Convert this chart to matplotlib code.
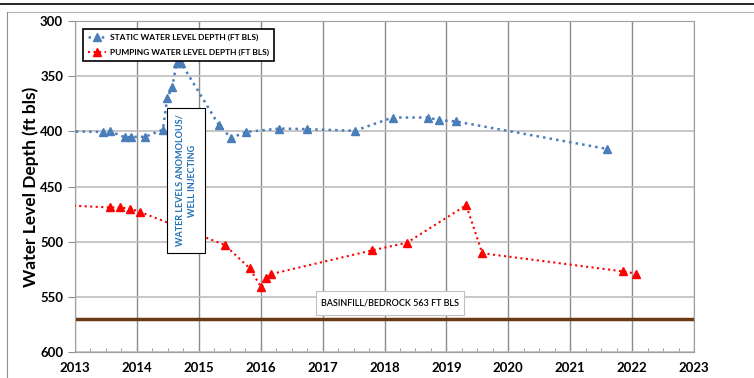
import matplotlib.pyplot as plt
from matplotlib.lines import Line2D
from matplotlib.patches import Rectangle
from matplotlib.ticker import MultipleLocator

plt.rcParams['font.family'] = ['Lato', 'DejaVu Sans']

# static water level (decimal year, ft bls)
static_years = [2012.8, 2013.46, 2013.57, 2013.81, 2013.91, 2014.13, 2014.42, 2014.49,
                2014.57, 2014.64, 2014.72, 2015.32, 2015.52, 2015.77, 2016.30, 2016.74,
                2017.52, 2018.13, 2018.71, 2018.88, 2019.15, 2021.60]
static_depth = [400, 400.5, 400, 405.5, 405, 405, 398.5, 370, 360, 338.5, 338.5,
                394, 406, 400.5, 397.5, 398, 399.5, 387.5, 387.5, 390, 391, 416]

# pumping water level (decimal year, ft bls)
pump_years = [2012.8, 2013.57, 2013.73, 2013.89, 2014.05, 2015.42, 2015.82, 2016.01,
              2016.09, 2016.16, 2017.79, 2018.36, 2019.32, 2019.58, 2021.86, 2022.07]
pump_depth = [467, 469, 469, 470, 473, 503, 524, 541.5, 533, 529.5, 508, 501,
              467, 510.5, 527, 529]

contact_depth = 570
contact_label = 'BASINFILL/BEDROCK 563 FT BLS'
anomaly_label = 'WATER LEVELS ANOMOLOUS/\nWELL INJECTING'

blue = '#4a7ebb'
red = '#ff0000'

fig = plt.figure(figsize=(7.54, 3.78), dpi=100)
ax = fig.add_axes([75 / 754, 26 / 378, 619 / 754, 331 / 378])

ax.plot(static_years, static_depth, ':', color=blue, lw=1.8, marker='^', ms=6,
        markeredgecolor=blue, label='STATIC WATER LEVEL DEPTH (FT BLS)', zorder=3)
ax.plot(pump_years, pump_depth, ':', color=red, lw=1.5, marker='^', ms=6,
        markeredgecolor=red, label='PUMPING WATER LEVEL DEPTH (FT BLS)', zorder=3)
ax.axhline(contact_depth, color='#6b3a14', lw=2.5, zorder=2)

ax.set_xlim(2013, 2023)
ax.set_ylim(600, 300)
ax.xaxis.set_major_locator(MultipleLocator(1))
ax.xaxis.set_minor_locator(MultipleLocator(0.25))
ax.yaxis.set_major_locator(MultipleLocator(50))
ax.grid(True, which='major', axis='x', color='#8c8c8c', lw=1)
ax.grid(True, which='major', axis='y', color='#bdbdbd', lw=1.2)
ax.set_axisbelow(True)
ax.tick_params(axis='x', which='both', direction='in', length=3, color='#8c8c8c')
ax.tick_params(axis='y', direction='out', length=5, color='#8c8c8c')
ax.tick_params(labelsize=9.5)
for lab in ax.get_xticklabels() + ax.get_yticklabels():
    lab.set_fontweight('bold')
ax.xaxis.set_tick_params(pad=7)
for s in ax.spines.values():
    s.set_color('#a0a0a0')

ax.set_ylabel('Water Level Depth (ft bls)', fontsize=12.5, fontweight='bold', labelpad=1)

# annotation boxes
ax.add_patch(Rectangle((2014.48, 379), 0.62, 131, facecolor='white',
                       edgecolor='black', lw=0.8, zorder=4))
ax.text(2014.79, 444.5, anomaly_label, rotation=90, ha='center', va='center',
        color='#1f6fb5', fontsize=6.5, fontweight='bold', linespacing=1.5, zorder=5)

ax.add_patch(Rectangle((2016.89, 544.5), 2.4, 22, facecolor='white',
                       edgecolor='#c0c0c0', lw=0.8, zorder=4))
ax.text(2018.09, 556, contact_label, ha='center', va='center',
        fontsize=6.5, fontweight='semibold', color='black', zorder=5)

leg = ax.legend(loc='upper left', bbox_to_anchor=(0.006, 0.988), fancybox=False,
                edgecolor='black', framealpha=1, numpoints=1, handlelength=2.2,
                handletextpad=0.5, prop={'size': 6, 'weight': 'bold'}, borderpad=0.6,
                labelspacing=0.9)
leg.get_frame().set_linewidth(1.2)
leg.set_zorder(6)

# outer frame
fig.add_artist(Line2D([0, 1], [1 - 4 / 378, 1 - 4 / 378], color='black', lw=1.2))
fig.add_artist(Line2D([0.009, 1], [1 - 12 / 378] * 2, color='#b0b0b0', lw=0.8))
fig.add_artist(Line2D([7 / 754] * 2, [0, 1 - 12 / 378], color='#909090', lw=0.8))

fig.savefig('out.png', dpi=100)
